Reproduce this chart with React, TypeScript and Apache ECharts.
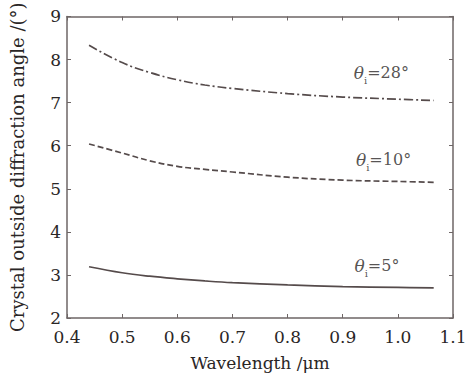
import React, { useEffect, useRef } from "react";
import * as echarts from "echarts";

const wavelength = [0.44, 0.5, 0.55, 0.6, 0.65, 0.7, 0.8, 0.9, 1.0, 1.065];
const angle28 = [8.33, 7.93, 7.7, 7.53, 7.41, 7.33, 7.21, 7.13, 7.08, 7.05];
const angle10 = [6.04, 5.83, 5.65, 5.52, 5.45, 5.39, 5.27, 5.2, 5.17, 5.15];
const angle5 = [3.19, 3.05, 2.97, 2.91, 2.86, 2.82, 2.77, 2.73, 2.71, 2.7];
const labelNames = ["28°", "10°", "5°"];
const labelPoints = [
  [0.97, 7.64],
  [0.974, 5.62],
  [0.962, 3.15],
];

const FONT = "'DejaVu Serif', 'Liberation Serif', serif";
const TEXT = "#2a2626";
const AXIS = "#6e6666";
const LINE = "#554b4b";

export default function App() {
  const ref = useRef<HTMLDivElement>(null);
  useEffect(() => {
    const chart = echarts.init(ref.current!, null, { renderer: "svg" });
    const mk = (ys: number[]) => wavelength.map((x, i) => [x, ys[i]]);
    const axisCommon = {
      axisLine: { show: true, lineStyle: { color: AXIS, width: 1.5 } },
      axisTick: { show: true, inside: true, length: 4, lineStyle: { color: AXIS } },
      splitLine: { show: false },
    };
    chart.setOption({
      animation: false,
      backgroundColor: "#fff",
      grid: { left: 66, right: 18, top: 15, bottom: 57 },
      xAxis: [
        {
          type: "value",
          min: 0.4,
          max: 1.1,
          interval: 0.1,
          ...axisCommon,
          axisLabel: {
            color: TEXT,
            fontFamily: FONT,
            fontSize: 17,
            margin: 10,
            formatter: (v: number) => v.toFixed(1),
          },
          name: "Wavelength /μm",
          nameLocation: "middle",
          nameGap: 36,
          nameTextStyle: { color: TEXT, fontFamily: FONT, fontSize: 17 },
        },
        {
          type: "value",
          min: 0.4,
          max: 1.1,
          interval: 0.1,
          position: "top",
          ...axisCommon,
          axisLabel: { show: false },
        },
      ],
      yAxis: [
        {
          type: "value",
          min: 2,
          max: 9,
          interval: 1,
          ...axisCommon,
          axisLabel: { color: TEXT, fontFamily: FONT, fontSize: 17, margin: 6 },
          name: "Crystal outside diffraction angle /(°)",
          nameLocation: "middle",
          nameGap: 41,
          nameTextStyle: { color: TEXT, fontFamily: FONT, fontSize: 18 },
        },
        {
          type: "value",
          min: 2,
          max: 9,
          interval: 1,
          position: "right",
          ...axisCommon,
          axisLabel: { show: false },
        },
      ],
      series: [
        {
          type: "line",
          data: mk(angle28),
          smooth: 0.4,
          symbol: "none",
          lineStyle: { color: LINE, width: 1.7, type: [9, 3, 2, 3] },
        },
        {
          type: "line",
          data: mk(angle10),
          smooth: 0.4,
          symbol: "none",
          lineStyle: { color: LINE, width: 1.7, type: [6, 3] },
        },
        {
          type: "line",
          data: mk(angle5),
          smooth: 0.4,
          symbol: "none",
          lineStyle: { color: LINE, width: 1.7, type: "solid" },
        },
        {
          type: "scatter",
          symbolSize: 0,
          silent: true,
          data: labelPoints.map((p, i) => ({ value: p, name: labelNames[i] })),
          label: {
            show: true,
            position: "inside",
            formatter: (p: any) => `{t|θ}{s|i}{n|=${p.name}}`,
            rich: {
              t: { fontFamily: FONT, fontStyle: "italic", fontSize: 17, color: TEXT, lineHeight: 18, verticalAlign: "top" },
              s: { fontFamily: FONT, fontSize: 10, color: TEXT, lineHeight: 21, verticalAlign: "bottom" },
              n: { fontFamily: FONT, fontSize: 16, color: TEXT, lineHeight: 18, verticalAlign: "top" },
            },
          },
        },
      ],
    });
    return () => chart.dispose();
  }, []);
  return (
    <div
      ref={ref}
      style={{ width: 471, height: 376, position: "absolute", left: 0, top: 0 }}
    />
  );
}
